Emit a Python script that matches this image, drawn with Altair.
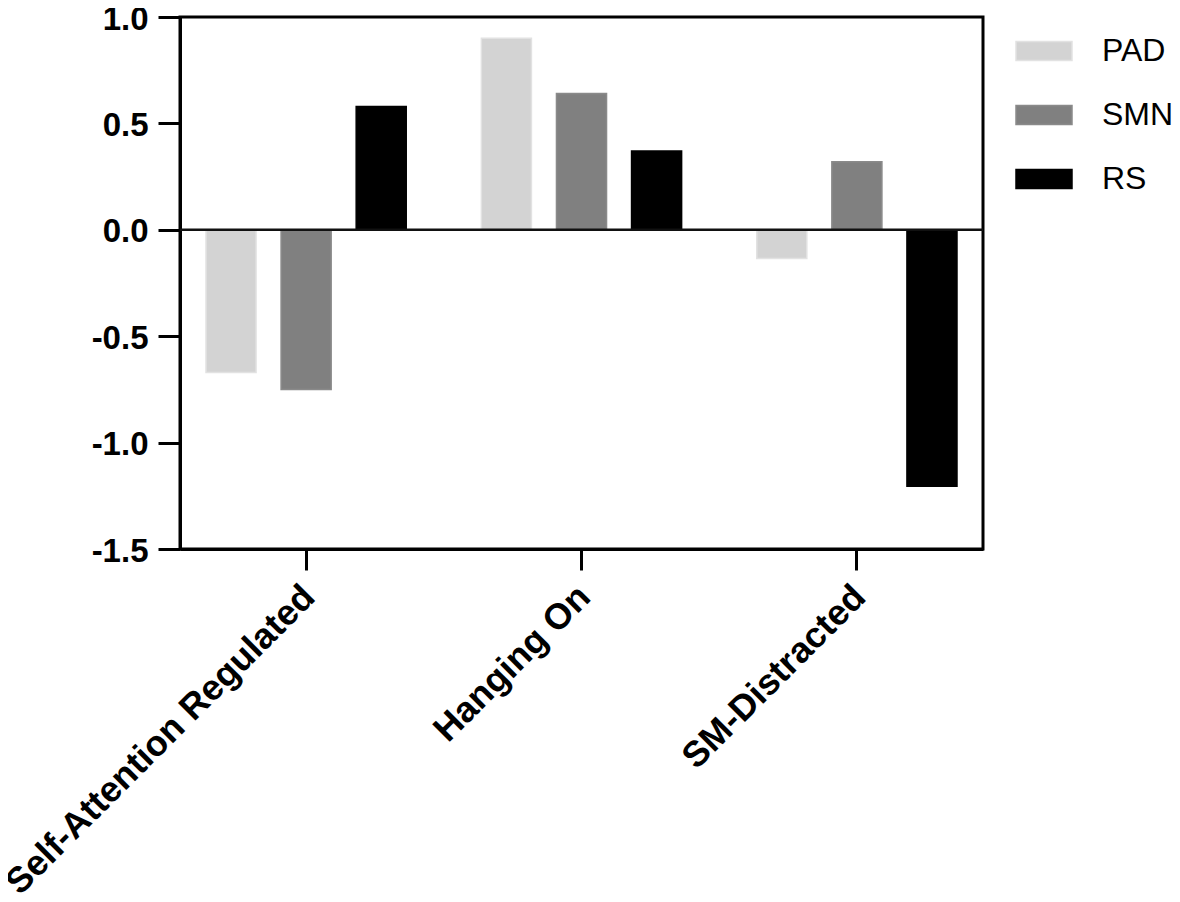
import altair as alt
import pandas as pd

categories = ["Self-Attention Regulated", "Hanging On", "SM-Distracted"]
series = ["PAD", "SMN", "RS"]
pad_values = [-0.67, 0.90, -0.135]
smn_values = [-0.75, 0.64, 0.32]
rs_values = [0.58, 0.37, -1.205]
y_ticks = [-1.5, -1.0, -0.5, 0.0, 0.5, 1.0]

fill_colors = ["#d3d3d3", "#808080", "#000000"]
stroke_colors = ["#e2e2e2", "#8a8a8a", "#000000"]

rows = []
for s, vals in zip(series, [pad_values, smn_values, rs_values]):
    for c, v in zip(categories, vals):
        rows.append({"category": c, "series": s, "value": v})
df = pd.DataFrame(rows)

FONT = "Liberation Sans"
rect_path = "M-1,-0.34L1,-0.34L1,0.34L-1,0.34Z"

legend_cfg = dict(
    title=None,
    orient="none",
    legendX=835,
    legendY=5,
    padding=0,
    symbolType=rect_path,
    symbolSize=3136,
    symbolStrokeWidth=1.5,
    labelFont=FONT,
    labelFontSize=32,
    labelColor="#000000",
    labelOffset=29,
    rowPadding=19,
    labelLimit=0,
)

bars = alt.Chart(df).mark_bar(strokeWidth=1.5).encode(
    x=alt.X(
        "category:N",
        sort=categories,
        title=None,
        scale=alt.Scale(paddingInner=0.182, paddingOuter=0.049),
        axis=alt.Axis(
            labelAngle=-45,
            labelAlign="right",
            labelBaseline="top",
            labelFont=FONT,
            labelFontSize=36,
            labelFontWeight="bold",
            labelColor="#000000",
            labelPadding=9,
            labelOffset=-9,
            labelLimit=0,
            labelBound=False,
            tickSize=21,
            tickWidth=3,
            tickColor="#000000",
            domainWidth=3,
            domainColor="#000000",
            grid=False,
        ),
    ),
    xOffset=alt.XOffset(
        "series:N",
        sort=series,
        scale=alt.Scale(paddingInner=1 / 3, paddingOuter=1 / 6),
    ),
    y=alt.Y(
        "value:Q",
        title=None,
        scale=alt.Scale(domain=[-1.5, 1.0], nice=False, zero=False),
        axis=alt.Axis(
            values=y_ticks,
            labelExpr="datum.value < 0 ? '-' + format(-datum.value, '.1f') : format(datum.value, '.1f')",
            labelFont=FONT,
            labelFontSize=33,
            labelFontWeight="bold",
            labelColor="#000000",
            labelPadding=10,
            labelOffset=2,
            tickSize=22,
            tickWidth=3,
            tickColor="#000000",
            domainWidth=3,
            domainColor="#000000",
            grid=False,
        ),
    ),
    fill=alt.Fill(
        "series:N",
        sort=series,
        scale=alt.Scale(domain=series, range=fill_colors),
        legend=alt.Legend(**legend_cfg),
    ),
    stroke=alt.Stroke(
        "series:N",
        sort=series,
        scale=alt.Scale(domain=series, range=stroke_colors),
        legend=alt.Legend(**legend_cfg),
    ),
)

zero_line = alt.Chart(pd.DataFrame({"y": [0.0]})).mark_rule(
    color="#111111", strokeWidth=2.5
).encode(y="y:Q")

chart = (
    alt.layer(bars, zero_line)
    .properties(
        width=803,
        height=532,
        autosize=alt.AutoSizeParams(type="none"),
        padding={"left": 172, "top": 9, "right": 189, "bottom": 350},
        background="white",
    )
    .configure_view(stroke="#000000", strokeWidth=3)
)

chart.save("out.html", embed_options={"renderer": "svg", "actions": False})
